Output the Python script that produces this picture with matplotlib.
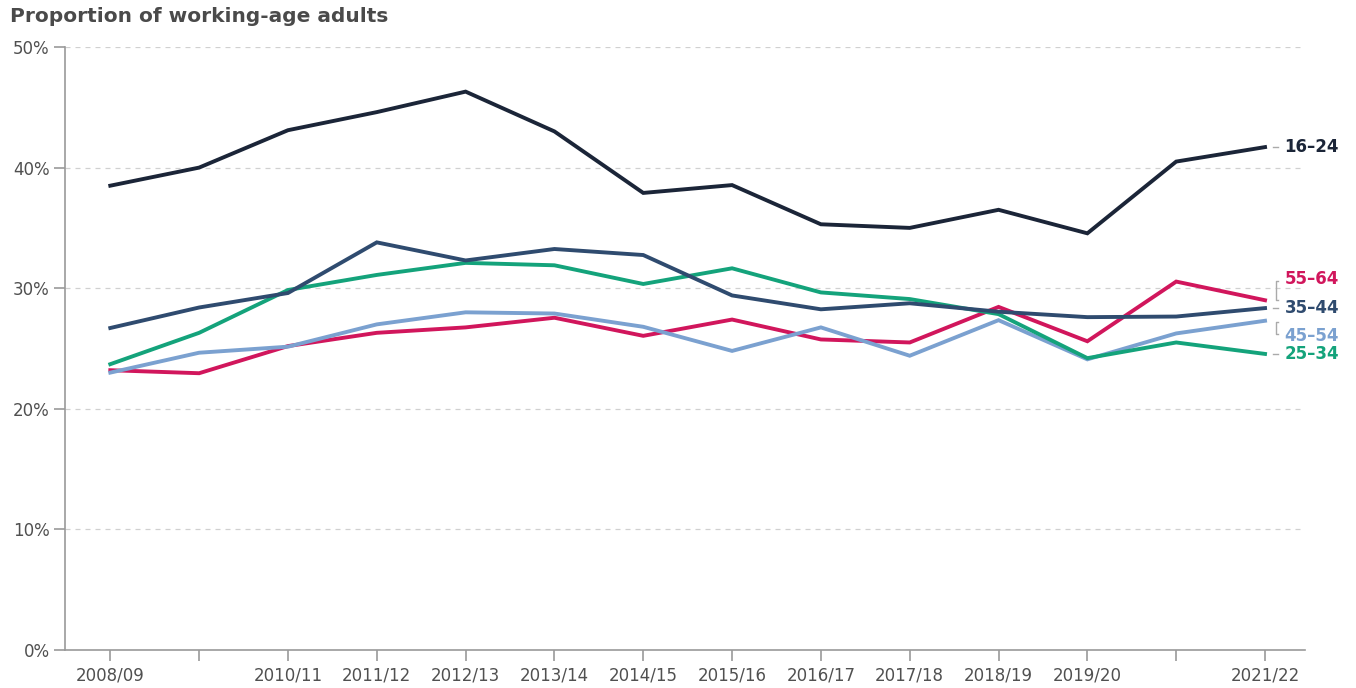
import matplotlib
matplotlib.use("Agg")
import matplotlib.pyplot as plt
from matplotlib.ticker import FixedLocator

plt.rcParams['font.family'] = ['DejaVu Sans']

years = ["2008/09", "2009/10", "2010/11", "2011/12", "2012/13", "2013/14", "2014/15",
         "2015/16", "2016/17", "2017/18", "2018/19", "2019/20", "2020/21", "2021/22"]
tick_labels = ["2008/09", "", "2010/11", "2011/12", "2012/13", "2013/14", "2014/15",
               "2015/16", "2016/17", "2017/18", "2018/19", "2019/20", "", "2021/22"]

age_16_24 = [38.5, 40.0, 43.1, 44.6, 46.3, 43.0, 37.9, 38.55, 35.3, 35.0, 36.5, 34.55, 40.5, 41.7]
age_25_34 = [23.7, 26.3, 29.85, 31.1, 32.1, 31.9, 30.35, 31.65, 29.65, 29.1, 27.85, 24.2, 25.5, 24.55]
age_35_44 = [26.7, 28.4, 29.6, 33.8, 32.3, 33.25, 32.75, 29.4, 28.25, 28.75, 28.05, 27.6, 27.65, 28.35]
age_45_54 = [23.0, 24.65, 25.15, 27.0, 28.0, 27.9, 26.8, 24.8, 26.75, 24.4, 27.35, 24.1, 26.25, 27.3]
age_55_64 = [23.2, 22.95, 25.2, 26.3, 26.75, 27.55, 26.05, 27.4, 25.75, 25.5, 28.45, 25.6, 30.55, 29.0]

series = [
    ("16–24", age_16_24, "#1b2538"),
    ("35–44", age_35_44, "#2f4b6f"),
    ("25–34", age_25_34, "#14a37b"),
    ("45–54", age_45_54, "#7ba1d0"),
    ("55–64", age_55_64, "#d1165c"),
]

fig = plt.figure(figsize=(13.56, 6.88), dpi=100)
ax = fig.add_axes([65/1356, 38/688, (1305-65)/1356, (650-47)/688])

x = list(range(len(years)))
for name, vals, col in reversed(series):
    ax.plot(x, vals, color=col, lw=2.8, solid_joinstyle='miter', zorder=3)

ax.set_xlim(-0.51, 13.45)
ax.set_ylim(0, 50)
ax.yaxis.set_major_locator(FixedLocator([0, 10, 20, 30, 40, 50]))
ax.set_yticklabels([f"{v}%" for v in [0, 10, 20, 30, 40, 50]])
ax.set_xticks(x)
ax.set_xticklabels(tick_labels)

for s in ["top", "right"]:
    ax.spines[s].set_visible(False)
for s in ["left", "bottom"]:
    ax.spines[s].set_color("#9a9a9a")
    ax.spines[s].set_linewidth(1.2)

ax.tick_params(axis='both', colors="#9a9a9a", labelcolor="#505050", labelsize=12, length=8, width=1.2)
ax.tick_params(axis='x', pad=4)
ax.tick_params(axis='y', pad=3)

for v in [10, 20, 30, 40, 50]:
    ax.axhline(v, color="#d0d0d0", lw=0.9, ls=(0, (4, 4)), zorder=1)

# right-side labels
lab_props = dict(fontsize=12, fontweight='bold', va='center', ha='left')
last = len(years) - 1
xt = last + 0.22
ax.plot([last + 0.09, last + 0.15], [age_16_24[-1]] * 2, color="#aaaaaa", lw=1, clip_on=False)
ax.text(xt, age_16_24[-1], "16–24", color="#1b2538", **lab_props, clip_on=False)
ax.plot([last + 0.09, last + 0.15], [age_35_44[-1]] * 2, color="#aaaaaa", lw=1, clip_on=False)
ax.text(xt, age_35_44[-1], "35–44", color="#2f4b6f", **lab_props, clip_on=False)
ax.plot([last + 0.09, last + 0.15], [age_25_34[-1]] * 2, color="#aaaaaa", lw=1, clip_on=False)
ax.text(xt, age_25_34[-1], "25–34", color="#14a37b", **lab_props, clip_on=False)
# 55-64 (bracket)
y55 = 30.8
ax.plot([last + 0.15, last + 0.12, last + 0.12, last + 0.15],
        [y55 - 0.2, y55 - 0.2, age_55_64[-1], age_55_64[-1]],
        color="#aaaaaa", lw=1, clip_on=False)
ax.text(xt, y55, "55–64", color="#d1165c", **lab_props, clip_on=False)
# 45-54 (bracket)
y45 = 26.0
ax.plot([last + 0.15, last + 0.12, last + 0.12, last + 0.15],
        [age_45_54[-1] - 0.1, age_45_54[-1] - 0.1, y45 + 0.2, y45 + 0.2],
        color="#aaaaaa", lw=1, clip_on=False)
ax.text(xt, y45, "45–54", color="#7ba1d0", **lab_props, clip_on=False)

fig.text(10/1356, 1 - 17/688, "Proportion of working-age adults", fontsize=14.5,
         fontweight='bold', color="#4a4a4a", ha='left', va='center')

fig.savefig("out.png", dpi=100, facecolor="white")
